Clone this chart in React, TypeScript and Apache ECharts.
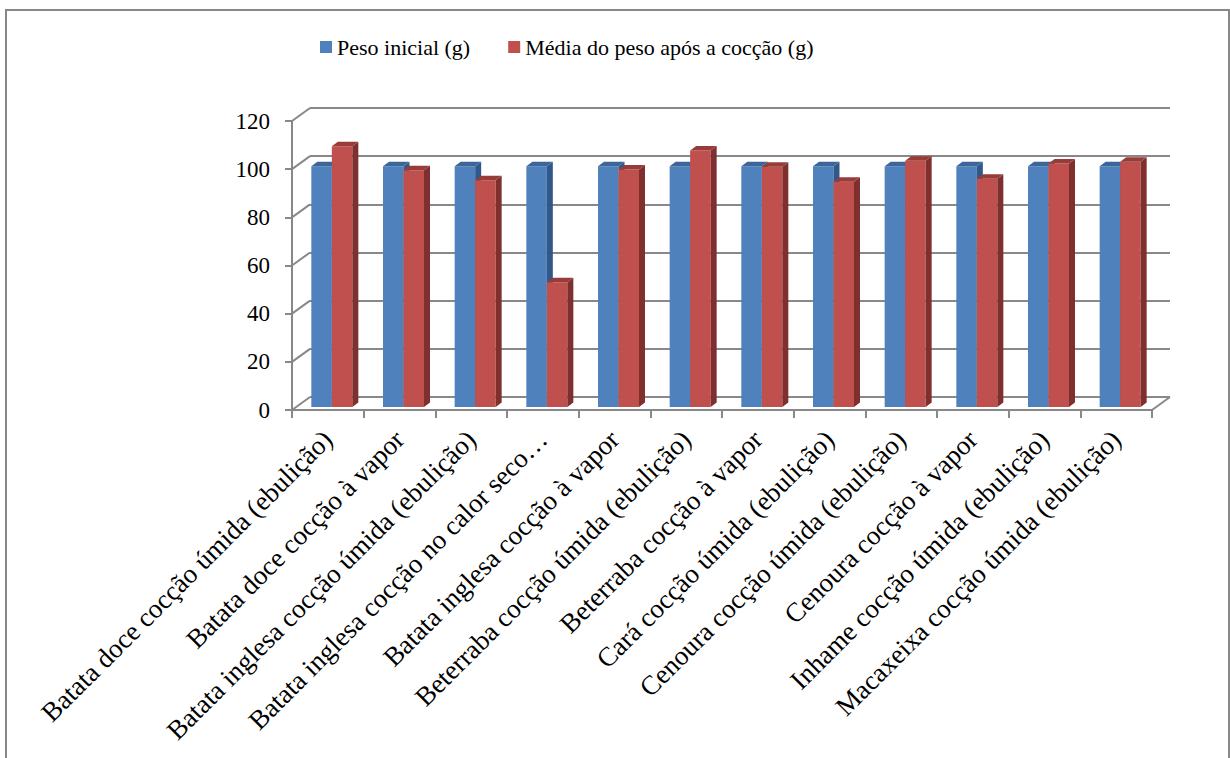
import React, { useEffect, useRef } from "react";
import * as echarts from "echarts";

const categories = [
  "Batata doce cocção úmida (ebulição)",
  "Batata doce cocção à vapor",
  "Batata inglesa cocção úmida (ebulição)",
  "Batata inglesa cocção no calor seco…",
  "Batata inglesa cocção à vapor",
  "Beterraba cocção úmida (ebulição)",
  "Beterraba cocção à vapor",
  "Cará cocção úmida (ebulição)",
  "Cenoura cocção úmida (ebulição)",
  "Cenoura cocção à vapor",
  "Inhame cocção úmida (ebulição)",
  "Macaxeixa cocção úmida (ebulição)",
];
const pesoInicial = [100, 100, 100, 100, 100, 100, 100, 100, 100, 100, 100, 100];
const pesoApos = [108.3, 98.3, 94.2, 51.8, 98.6, 106.5, 99.8, 93.5, 102.3, 94.8, 101.1, 101.8];
const seriesNames = ["Peso inicial (g)", "Média do peso após a cocção (g)"];
const yTicks = [0, 20, 40, 60, 80, 100, 120];

const FONT = "Liberation Serif";
const GRID = "#888888";
const DX = 18; // wall depth offset
const DY = -13;
const BX = 4; // bar plane offset
const BY = -3;
const BW = 20.5; // bar width
const BD = 6; // bar depth x
const BDY = 4.5; // bar depth y

function barRender(side: number, front: string, sideC: string, topC: string) {
  return (params: any, api: any) => {
    const i = api.value(0);
    const v = api.value(1);
    const top = api.coord([i, v]);
    const base = api.coord([i, 0]);
    const x0 = top[0] + BX + (side === 0 ? -BW : 0);
    const x1 = x0 + BW;
    const yT = top[1] + BY;
    const yB = base[1] + BY;
    return {
      type: "group",
      children: [
        { type: "rect", shape: { x: x0, y: yT, width: BW, height: yB - yT }, style: { fill: front } },
        {
          type: "polygon",
          shape: { points: [[x1, yT], [x1 + BD, yT - BDY], [x1 + BD, yB - BDY], [x1, yB]] },
          style: { fill: sideC },
        },
        {
          type: "polygon",
          shape: { points: [[x0, yT], [x0 + BD, yT - BDY], [x1 + BD, yT - BDY], [x1, yT]] },
          style: { fill: topC },
        },
      ],
    };
  };
}

function frameRender(params: any, api: any) {
  const v = api.value(1);
  const p = api.coord([0, v]);
  const cs = params.coordSys;
  const children: any[] = [
    { type: "line", shape: { x1: cs.x, y1: p[1], x2: cs.x + DX, y2: p[1] + DY }, style: { stroke: GRID, lineWidth: 2 } },
  ];
  if (v === 0) {
    children.push({
      type: "line",
      shape: { x1: cs.x + cs.width, y1: p[1], x2: cs.x + cs.width + DX, y2: p[1] + DY },
      style: { stroke: GRID, lineWidth: 2 },
    });
  }
  return { type: "group", children };
}

export default function App() {
  const ref = useRef<HTMLDivElement>(null);
  useEffect(() => {
    if (!ref.current) return;
    const chart = echarts.init(ref.current, undefined, { renderer: "svg" });
    const yBase = { type: "value", min: 0, max: 120, interval: 20 };
    chart.setOption({
      animation: false,
      backgroundColor: "#ffffff",
      textStyle: { fontFamily: FONT },
      graphic: [
        {
          type: "rect",
          shape: { x: 6, y: 10, width: 1223, height: 800 },
          style: { fill: "none", stroke: GRID, lineWidth: 2 },
          silent: true,
        },
      ],
      legend: {
        left: 315,
        top: 31,
        itemWidth: 12,
        itemHeight: 12,
        itemGap: 38,
        textStyle: { fontFamily: FONT, fontSize: 22, color: "#000" },
        data: [
          { name: seriesNames[0], icon: "rect", itemStyle: { color: "#4F81BD" } },
          { name: seriesNames[1], icon: "rect", itemStyle: { color: "#C0504D" } },
        ],
      },
      grid: [
        { left: 292, top: 121, width: 860, height: 289 },
        { left: 292 + DX, top: 121 + DY, width: 860, height: 289 },
      ],
      xAxis: [
        {
          gridIndex: 0,
          type: "category",
          data: categories,
          axisLine: { show: true, lineStyle: { color: GRID, width: 2 } },
          axisTick: { show: true, length: 8, lineStyle: { color: GRID, width: 2 } },
          axisLabel: {
            show: true,
            interval: 0,
            rotate: 45,
            margin: 25,
            fontFamily: FONT,
            fontSize: 27,
            color: "#000",
          },
        },
        { gridIndex: 1, type: "category", data: categories, show: false },
      ],
      yAxis: [
        {
          ...yBase,
          gridIndex: 0,
          axisLine: { show: true, lineStyle: { color: GRID, width: 2 } },
          axisTick: { show: true, length: 7, lineStyle: { color: GRID, width: 2 } },
          splitLine: { show: false },
          axisLabel: { margin: 22, fontFamily: FONT, fontSize: 23, color: "#000" },
        },
        {
          ...yBase,
          gridIndex: 1,
          axisLine: { show: false },
          axisTick: { show: false },
          axisLabel: { show: false },
          splitLine: { show: true, lineStyle: { color: GRID, width: 2 } },
        },
      ],
      series: [
        {
          type: "custom",
          name: "frame",
          xAxisIndex: 0,
          yAxisIndex: 0,
          z: 1,
          silent: true,
          renderItem: frameRender,
          data: yTicks.map((v) => [0, v]),
          encode: { x: 0, y: 1 },
        },
        {
          type: "custom",
          name: seriesNames[0],
          xAxisIndex: 0,
          yAxisIndex: 0,
          z: 2,
          itemStyle: { color: "#4F81BD" },
          renderItem: barRender(0, "#4F81BD", "#30588A", "#3C6699"),
          data: pesoInicial.map((v, i) => [i, v]),
          encode: { x: 0, y: 1 },
        },
        {
          type: "custom",
          name: seriesNames[1],
          xAxisIndex: 0,
          yAxisIndex: 0,
          z: 2,
          itemStyle: { color: "#C0504D" },
          renderItem: barRender(1, "#C0504D", "#7F2F2D", "#983C3A"),
          data: pesoApos.map((v, i) => [i, v]),
          encode: { x: 0, y: 1 },
        },
      ],
    });
    return () => chart.dispose();
  }, []);
  return (
    <div
      ref={ref}
      style={{ position: "absolute", left: 0, top: 0, width: 1230, height: 758 }}
    />
  );
}
